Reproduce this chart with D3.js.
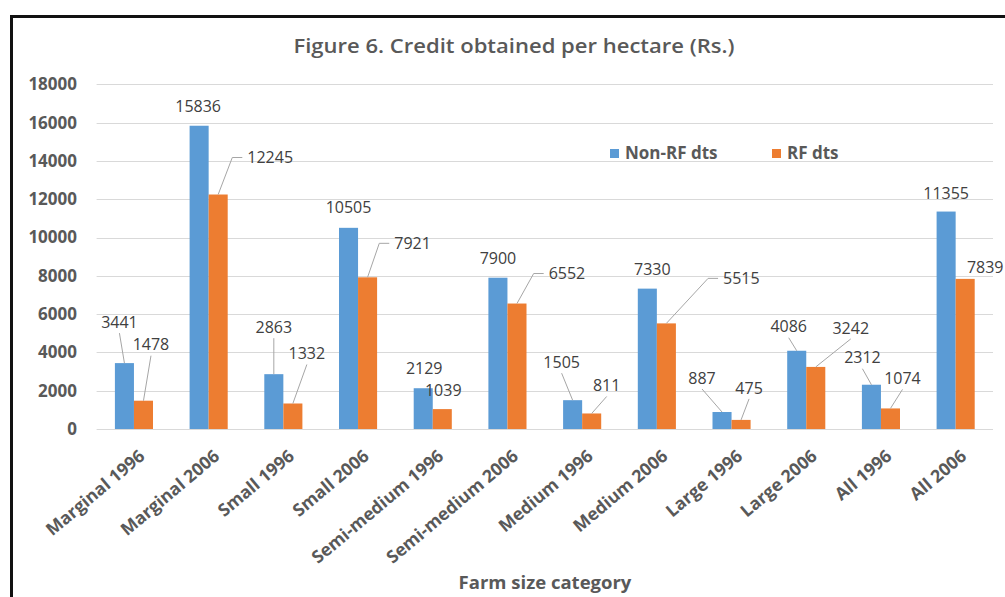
<!DOCTYPE html>
<html><head><meta charset="utf-8">
<script src="https://cdn.jsdelivr.net/npm/d3@7"></script>
<style>
html,body{margin:0;padding:0;background:#fff;}
svg{display:block;font-family:"Open Sans",sans-serif;}
</style></head>
<body>
<svg id="chart" width="1005" height="597"></svg>
<script>
const categories = ["Marginal 1996","Marginal 2006","Small 1996","Small 2006","Semi-medium 1996","Semi-medium 2006","Medium 1996","Medium 2006","Large 1996","Large 2006","All 1996","All 2006"];
const seriesNames = ["Non-RF dts","RF dts"];
const nonRF = [3441,15836,2863,10505,2129,7900,1505,7330,887,4086,2312,11355];
const rf = [1478,12245,1332,7921,1039,6552,811,5515,475,3242,1074,7839];
const yTicks = [0,2000,4000,6000,8000,10000,12000,14000,16000,18000];
const colors = ["#5b9bd5","#ed7d31"];

// label layout (offset of label centre from bar top, px) and leader style
const labelOffsetNonRF = [[-5,-41,"line"],[-1,-19,""],[0,-47,"line"],[0,-20,""],[1,-20,""],[0,-19.5,""],[-11,-38,"line"],[5,-19,""],[-20,-34,"line"],[-8,-24,"line"],[-9,-27,"line"],[0,-18,""]];
const labelOffsetRF = [[7.5,-56,"line"],[52,-37,"elbow"],[14,-50,"line"],[45,-34,"elbow"],[1,-19,""],[50,-30,"elbow"],[15,-28,"line"],[75,-45,"elbow"],[8,-32,"line"],[35,-39,"line"],[12,-30,"line"],[20,-11,""]];

const svg = d3.select("#chart");
const W = 1005, H = 597;
const x0 = 96.6, x1 = 993, yTop = 84.3, yBot = 429;

// frame
svg.append("path").attr("d",`M11.5,${H} L11.5,16.5 L${W},16.5`).attr("fill","none").attr("stroke","#111").attr("stroke-width",3);

const x = d3.scaleBand().domain(categories).range([x0,x1]).paddingInner(0.49).paddingOuter(0.245);
const xs = d3.scaleBand().domain(seriesNames).range([0,x.bandwidth()]);
const y = d3.scaleLinear().domain([0,18000]).range([yBot,yTop]);

// grid
const grid = svg.append("g");
grid.selectAll("line").data(yTicks).join("line")
  .attr("x1",x0).attr("x2",x1)
  .attr("y1",d=>Math.round(y(d))+0.5).attr("y2",d=>Math.round(y(d))+0.5)
  .attr("stroke","#d9d9d9").attr("stroke-width",1);

// y axis
const yAxis = d3.axisLeft(y).tickValues(yTicks).tickSize(0).tickPadding(0).tickFormat(d3.format("d"));
const gy = svg.append("g").attr("transform",`translate(77,0)`).call(yAxis);
gy.select(".domain").remove();
gy.selectAll("text").attr("font-family","Open Sans").attr("font-size",17).attr("font-weight",700).attr("fill","#595959");

// x axis
const xAxis = d3.axisBottom(x).tickSize(0).tickPadding(0);
const gx = svg.append("g").attr("transform",`translate(0,${yBot})`).call(xAxis);
gx.select(".domain").remove();
gx.selectAll("text")
  .attr("font-family","Open Sans").attr("font-size",17.5).attr("font-weight",700).attr("fill","#595959")
  .attr("text-anchor","end")
  .attr("transform","translate(12,29) rotate(-40)")
  .attr("y",0).attr("dy",0);

// bars
const series = [nonRF, rf];
const offsets = [labelOffsetNonRF, labelOffsetRF];
series.forEach((vals,si)=>{
  svg.append("g").selectAll("rect").data(vals).join("rect")
    .attr("x",(d,i)=>x(categories[i])+xs(seriesNames[si]))
    .attr("width",xs.bandwidth())
    .attr("y",d=>y(d)).attr("height",d=>y(0)-y(d))
    .attr("fill",colors[si]);
});

// labels & leaders
const lg = svg.append("g");
series.forEach((vals,si)=>{
  vals.forEach((v,i)=>{
    const bx = x(categories[i])+xs(seriesNames[si])+xs.bandwidth()/2;
    const by = y(v);
    const [dx,dy,type] = offsets[si][i];
    const lx = bx+dx, ly = by+dy;
    const t = lg.append("text").attr("x",lx).attr("y",ly).attr("dy","0.35em")
      .attr("text-anchor","middle").attr("font-family","Open Sans").attr("font-size",16)
      .attr("fill","#404040").text(v);
    const w = t.node().getComputedTextLength();
    if(type==="line"){
      lg.append("line").attr("x1",lx).attr("y1",ly+11).attr("x2",bx).attr("y2",by)
        .attr("stroke","#a6a6a6").attr("stroke-width",1);
    } else if(type==="elbow"){
      const sx = lx-w/2-5;
      lg.append("polyline").attr("points",`${sx},${ly} ${sx-10},${ly} ${bx},${by}`)
        .attr("fill","none").attr("stroke","#a6a6a6").attr("stroke-width",1);
    }
  });
});

// title
svg.append("text").attr("transform","translate(514,53) scale(1.13,1)").attr("text-anchor","middle")
  .attr("font-family","Open Sans").attr("font-size",19.5).attr("font-weight",600).attr("fill","#595959")
  .text("Figure 6. Credit obtained per hectare (Rs.)");

// legend
const leg = svg.append("g");
const legX = [610,772];
seriesNames.forEach((n,i)=>{
  leg.append("rect").attr("x",legX[i]).attr("y",149).attr("width",9).attr("height",9).attr("fill",colors[i]);
  leg.append("text").attr("x",legX[i]+15).attr("y",153.5).attr("dy","0.35em")
    .attr("font-family","Open Sans").attr("font-size",17).attr("font-weight",700).attr("fill","#595959").text(n);
});

// x title
svg.append("text").attr("x",545).attr("y",583).attr("dy","0.35em").attr("text-anchor","middle")
  .attr("font-family","Open Sans").attr("font-size",18.5).attr("font-weight",700).attr("fill","#595959")
  .text("Farm size category");
</script>
</body></html>
